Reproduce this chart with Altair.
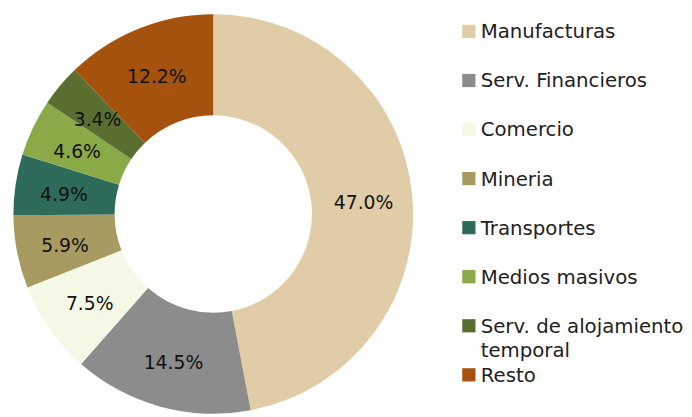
import altair as alt
import pandas as pd

categories = ["Manufacturas", "Serv. Financieros", "Comercio", "Mineria",
              "Transportes", "Medios masivos", "Serv. de alojamiento temporal", "Resto"]
legend_lines = [["Manufacturas"], ["Serv. Financieros"], ["Comercio"], ["Mineria"],
                ["Transportes"], ["Medios masivos"], ["Serv. de alojamiento", "temporal"], ["Resto"]]
shares = [47.0, 14.5, 7.5, 5.9, 4.9, 4.6, 3.4, 12.2]
colors = ["#E0CDA8", "#8C8C8C", "#F4F8E4", "#A89B62", "#2E6B5A", "#8AAA48", "#5A6E30", "#A5520F"]

df = pd.DataFrame({"cat": categories, "share": shares,
                   "order": list(range(len(categories))),
                   "lines": legend_lines})

color_scale = alt.Scale(domain=categories, range=colors)
FONT = "DejaVu Sans"

base = alt.Chart(df).transform_calculate(
    label="format(datum.share, '.1f') + '%'"
).encode(
    theta=alt.Theta("share:Q", stack=True),
    order=alt.Order("order:Q"),
)

arcs = base.mark_arc(outerRadius=202.5, innerRadius=100).encode(
    color=alt.Color("cat:N", scale=color_scale, legend=None),
    x=alt.value(208),
    y=alt.value(206),
)

labels = base.mark_text(radius=153, dy=3, fontSize=19, font=FONT, color="#111111").encode(
    text="label:N",
    x=alt.value(208),
    y=alt.value(206),
)

ypos = alt.Y("cat:N", sort=categories, axis=None,
             scale=alt.Scale(type="point", range=[21, 369], padding=0))

leg_sym = alt.Chart(df).mark_square(size=180, opacity=1).encode(
    x=alt.value(467),
    y=ypos,
    color=alt.Color("cat:N", scale=color_scale, legend=None),
)

leg_txt = alt.Chart(df).mark_text(
    align="left", baseline="alphabetic", dy=7, fontSize=20, font=FONT,
    color="#222222", lineHeight=25
).encode(
    x=alt.value(479),
    y=ypos,
    text=alt.Text("lines"),
)

chart = (arcs + labels + leg_sym + leg_txt).properties(
    width=676, height=400, padding=0
).configure_view(stroke=None)

chart.save("out.html", embed_options={"renderer": "svg", "actions": False})
